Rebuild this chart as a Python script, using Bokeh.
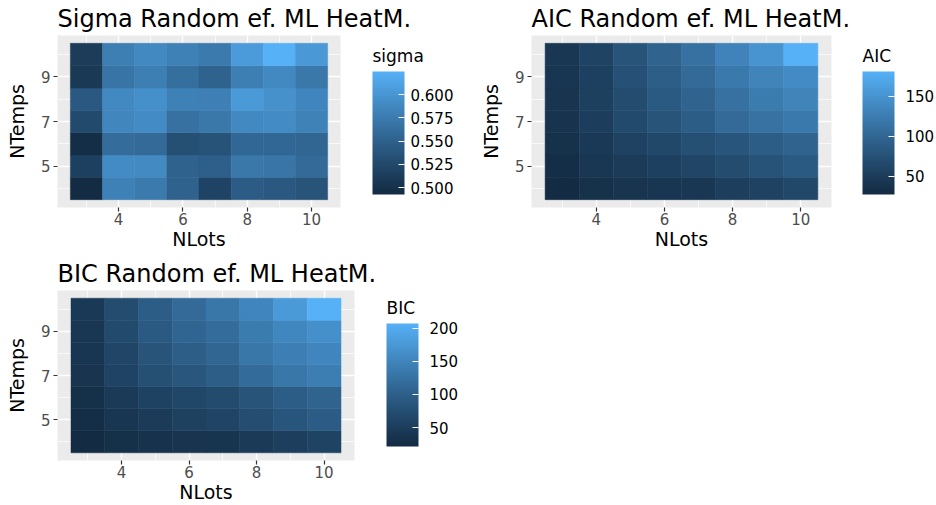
import numpy as np
from bokeh.plotting import figure
from bokeh.layouts import column, row
from bokeh.models import (Range1d, FixedTicker, LinearColorMapper, ColorBar,
                          ColumnDataSource, PrintfTickFormatter)
from bokeh.transform import transform
from bokeh.embed import file_html
from bokeh.resources import INLINE

# ---------------- data ----------------
n_lots = [3, 4, 5, 6, 7, 8, 9, 10]
n_temps = [4, 5, 6, 7, 8, 9, 10]

# rows: NTemps 4..10 ; columns: NLots 3..10
sigma_vals = [
    [0.4925, 0.581, 0.574, 0.551, 0.519, 0.545, 0.541, 0.536],
    [0.516, 0.590, 0.589, 0.552, 0.548, 0.572, 0.570, 0.559],
    [0.496, 0.561, 0.559, 0.532, 0.535, 0.556, 0.556, 0.555],
    [0.526, 0.586, 0.590, 0.565, 0.572, 0.588, 0.590, 0.582],
    [0.541, 0.588, 0.594, 0.581, 0.580, 0.604, 0.596, 0.585],
    [0.508, 0.569, 0.578, 0.563, 0.552, 0.578, 0.588, 0.572],
    [0.512, 0.578, 0.588, 0.581, 0.574, 0.605, 0.625, 0.602],
]
aic_vals = [
    [27.5, 35, 40, 41, 43, 52, 57, 64],
    [32, 43, 49, 55, 61, 69, 77, 84],
    [35, 46, 57, 64, 72, 80, 89, 97],
    [38, 51, 66, 78, 89, 104, 113, 121],
    [40, 54, 69, 84, 97, 112, 124, 133],
    [41, 55, 74, 90, 104, 121, 133, 141],
    [43, 58, 78, 97, 112, 132, 150, 181],
]
bic_vals = [
    [21.5, 29, 33, 36, 37, 46, 51, 58],
    [27, 38, 47, 55, 60, 73, 85, 94],
    [29, 46, 57, 64, 70, 83, 96, 105],
    [36, 59, 77, 86, 98, 116, 131, 140],
    [38, 62, 83, 98, 109, 131, 142, 151],
    [40, 68, 90, 107, 118, 138, 153, 164],
    [44, 72, 96, 114, 131, 151, 177, 207],
]

x_ticks = [4, 6, 8, 10]
x_minor = [3, 5, 7, 9]
y_ticks = [5, 7, 9]
y_minor = [4, 6, 8, 10]
sigma_ticks = [0.500, 0.525, 0.550, 0.575, 0.600]
aic_ticks = [50, 100, 150]
bic_ticks = [50, 100, 150, 200]

LOW_COL = "#132B43"
HIGH_COL = "#56B1F7"
FONT = "DejaVu Sans"

# ------------- Lab gradient (like ggplot2 scale_fill_gradient) -------------
def _hex2rgb(h):
    h = h.lstrip("#")
    return np.array([int(h[i:i + 2], 16) for i in (0, 2, 4)], dtype=float) / 255.0

_M = np.array([[0.4124564, 0.3575761, 0.1804375],
               [0.2126729, 0.7151522, 0.0721750],
               [0.0193339, 0.1191920, 0.9503041]])
_WP = _M @ np.ones(3)

def _rgb2lab(c):
    lin = np.where(c <= 0.04045, c / 12.92, ((c + 0.055) / 1.055) ** 2.4)
    xyz = _M @ lin / _WP
    d = 6 / 29
    f = np.where(xyz > d ** 3, np.cbrt(xyz), xyz / (3 * d * d) + 4 / 29)
    return np.array([116 * f[1] - 16, 500 * (f[0] - f[1]), 200 * (f[1] - f[2])])

def _lab2hex(lab):
    L, a, b = lab
    fy = (L + 16) / 116
    fx = fy + a / 500
    fz = fy - b / 200
    d = 6 / 29
    f = np.array([fx, fy, fz])
    xyz = np.where(f > d, f ** 3, 3 * d * d * (f - 4 / 29)) * _WP
    lin = np.linalg.solve(_M, xyz)
    lin = np.clip(lin, 0, 1)
    c = np.where(lin <= 0.0031308, 12.92 * lin, 1.055 * lin ** (1 / 2.4) - 0.055)
    c = np.clip(np.round(c * 255), 0, 255).astype(int)
    return "#%02x%02x%02x" % tuple(c)

_l0 = _rgb2lab(_hex2rgb(LOW_COL))
_l1 = _rgb2lab(_hex2rgb(HIGH_COL))
palette = [_lab2hex(_l0 + (_l1 - _l0) * t) for t in np.linspace(0, 1, 256)]


def make_panel(title, vals, leg_title, ticks, fmt, width, height,
               fl, ft, fw, fh, bar_gap, bar_bottom, lab_standoff):
    xs, ys, vs = [], [], []
    for j, t in enumerate(n_temps):
        for i, l in enumerate(n_lots):
            xs.append(l)
            ys.append(t)
            vs.append(vals[j][i])
    src = ColumnDataSource(dict(x=xs, y=ys, v=vs))
    mapper = LinearColorMapper(palette=palette, low=min(vs), high=max(vs))

    p = figure(width=width, height=height, title=title,
               x_range=Range1d(2.1, 10.9), y_range=Range1d(3.15, 10.85),
               output_backend="svg", toolbar_location=None,
               x_axis_label="NLots", y_axis_label="NTemps")
    p.min_border_left = fl
    p.min_border_top = ft
    p.min_border_right = width - fl - fw
    p.min_border_bottom = height - ft - fh
    p.background_fill_color = "#EBEBEB"
    p.border_fill_color = "white"
    p.outline_line_color = None

    p.title.text_font = FONT
    p.title.text_font_size = "24px"
    p.title.text_font_style = "normal"
    p.title.text_color = "black"
    p.title.align = "left"
    p.title.standoff = 5

    p.xgrid.ticker = FixedTicker(ticks=x_ticks, minor_ticks=x_minor)
    p.ygrid.ticker = FixedTicker(ticks=y_ticks, minor_ticks=y_minor)
    for g in (p.xgrid, p.ygrid):
        g.grid_line_color = "white"
        g.grid_line_width = 1.4
        g.minor_grid_line_color = "white"
        g.minor_grid_line_width = 0.7

    p.xaxis.ticker = FixedTicker(ticks=x_ticks)
    p.yaxis.ticker = FixedTicker(ticks=y_ticks)
    for ax in (p.xaxis, p.yaxis):
        ax.axis_line_color = None
        ax.minor_tick_line_color = None
        ax.major_tick_line_color = "#333333"
        ax.major_tick_line_width = 1.2
        ax.major_tick_in = 0
        ax.major_tick_out = 4
        ax.major_label_text_font = FONT
        ax.major_label_text_font_size = "15px"
        ax.major_label_text_color = "#4D4D4D"
        ax.axis_label_text_font = FONT
        ax.axis_label_text_font_size = "19px"
        ax.axis_label_text_font_style = "normal"
        ax.axis_label_text_color = "black"
    p.xaxis.major_label_standoff = 1
    p.xaxis.axis_label_standoff = 0
    p.yaxis.major_label_standoff = 3
    p.yaxis.axis_label_standoff = 10

    p.rect(x="x", y="y", width=1, height=1, source=src,
           fill_color=transform("v", mapper),
           line_color=transform("v", mapper), line_width=0.5)

    cb = ColorBar(color_mapper=mapper, ticker=FixedTicker(ticks=ticks),
                  formatter=fmt, width=32, height=123,
                  location=(fw + bar_gap, bar_bottom),
                  major_label_text_font=FONT, major_label_text_font_size="15px",
                  major_label_text_color="black", label_standoff=lab_standoff,
                  major_tick_in=6, major_tick_line_color="white",
                  bar_line_color=None, background_fill_color=None,
                  border_line_color=None, margin=0, padding=0)
    p.add_layout(cb)

    # legend title: a horizontal, fully transparent colour bar carrying the title
    tcb = ColorBar(color_mapper=mapper, orientation="horizontal",
                   ticker=FixedTicker(ticks=[]), width=40, height=1,
                   location=(fw + bar_gap, bar_bottom + 123 + 5),
                   title=leg_title, title_text_font=FONT,
                   title_text_font_size="17px", title_text_font_style="normal",
                   title_text_color="black", title_standoff=0,
                   scale_alpha=0, major_label_text_alpha=0,
                   major_tick_line_color=None, minor_tick_line_color=None,
                   bar_line_color=None, background_fill_color=None,
                   border_line_color=None, margin=0, padding=0)
    p.add_layout(tcb)
    return p


p1 = make_panel("Sigma Random ef. ML HeatM.", sigma_vals, "sigma", sigma_ticks,
                PrintfTickFormatter(format="%.3f"), 468, 252,
                57, 35, 283, 173, 32, 13, 6)
p2 = make_panel("AIC Random ef. ML HeatM.", aic_vals, "AIC", aic_ticks,
                PrintfTickFormatter(format="%d"), 468, 252,
                63, 35, 300, 173, 31, 13, 11)
p3 = make_panel("BIC Random ef. ML HeatM.", bic_vals, "BIC", bic_ticks,
                PrintfTickFormatter(format="%d"), 468, 253,
                57, 38, 297, 175, 32, 14, 11)

layout = column(row(p1, p2), p3)
open("out.html", "w").write(file_html(layout, INLINE))
